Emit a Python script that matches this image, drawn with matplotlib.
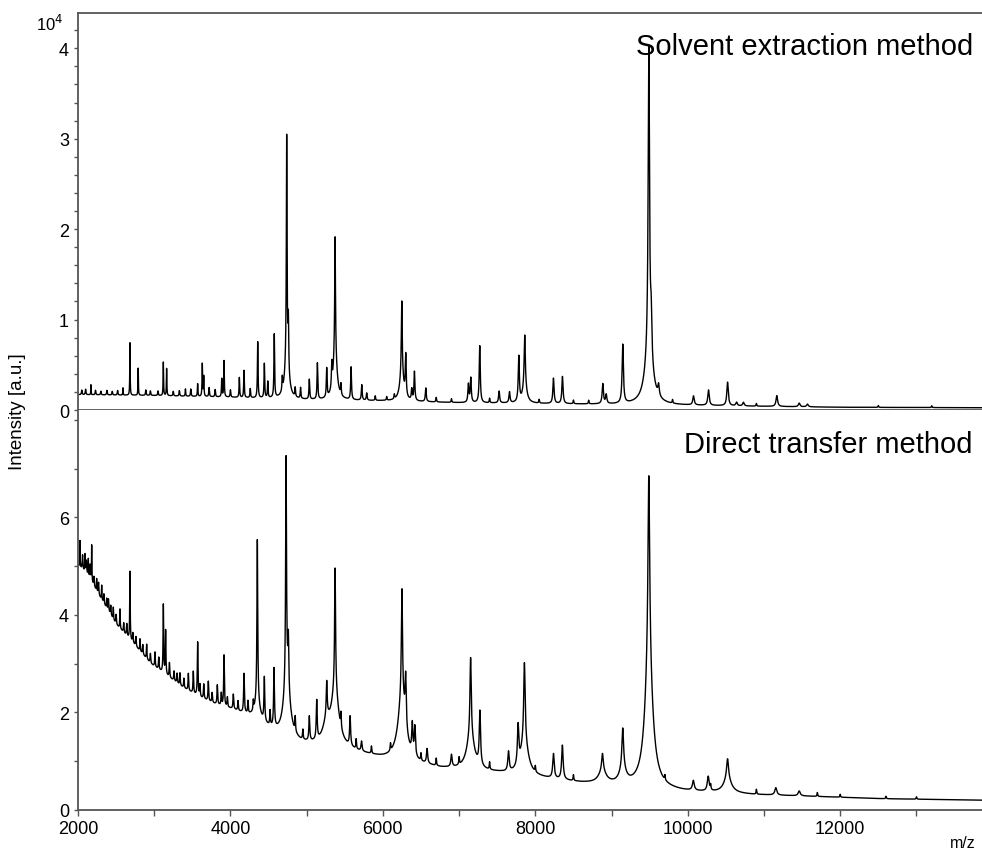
import matplotlib
matplotlib.use("Agg")
import matplotlib.pyplot as plt
import numpy as np
from matplotlib.ticker import MultipleLocator, FixedLocator

plt.rcParams['font.family'] = ['Liberation Sans', 'DejaVu Sans']

# ---- solvent extraction spectrum (intensity in 1e4 a.u.) ----
se_base_mz = [2000, 3000, 4000, 5000, 6000, 7000, 8000, 9000, 10000, 11000, 12000, 13860]
se_base_int = [0.17, 0.16, 0.14, 0.11, 0.10, 0.08, 0.07, 0.06, 0.05, 0.04, 0.03, 0.025]

se_peak_mz = [2170, 2590, 2682, 2790, 3120, 3163, 3410, 3570, 3631, 3650,
              3886, 3916, 4117, 4178, 4358, 4445, 4490, 4575, 4738, 4760,
              5035, 5141, 5263, 5330, 5373, 5583, 5723, 5788, 6248, 6300,
              6379, 6414, 6563, 7122, 7153, 7271, 7525, 7661, 7783, 7861,
              8238, 8356, 8885, 8930, 9147, 9489, 9520, 9617, 10075, 10272,
              10522, 10640, 10730, 11168, 11462, 11570]
se_peak_amp = [0.11, 0.08, 0.58, 0.30, 0.37, 0.30, 0.08, 0.14, 0.36, 0.22,
               0.20, 0.40, 0.22, 0.30, 0.62, 0.38, 0.18, 0.70, 2.45, 0.55,
               0.22, 0.40, 0.32, 0.26, 1.30, 0.36, 0.17, 0.08, 0.80, 0.45,
               0.12, 0.32, 0.15, 0.20, 0.27, 0.63, 0.13, 0.12, 0.50, 0.55,
               0.28, 0.30, 0.22, 0.10, 0.65, 3.38, 0.45, 0.12, 0.10, 0.17,
               0.26, 0.04, 0.04, 0.12, 0.04, 0.03]
# small bumps between the main peaks
se_fine_mz = [2050, 2100, 2230, 2300, 2380, 2450, 2520, 2890, 2950, 3050,
              3250, 3330, 3480, 3720, 3800, 4000, 4260, 4680, 4850, 4920,
              5450, 5900, 6050, 6150, 6700, 6900, 7400, 8050, 8500, 8700,
              9800, 10900, 12500, 13200]
se_fine_amp = [0.05, 0.06, 0.05, 0.04, 0.05, 0.04, 0.05, 0.06, 0.05, 0.05,
               0.05, 0.06, 0.08, 0.10, 0.08, 0.08, 0.10, 0.15, 0.10, 0.12,
               0.12, 0.05, 0.04, 0.05, 0.05, 0.04, 0.05, 0.04, 0.04, 0.04,
               0.04, 0.03, 0.02, 0.02]
# broad feet under the strong peaks
se_broad_mz = [4740, 5373, 6248, 7861, 9489]
se_broad_amp = [0.45, 0.50, 0.30, 0.20, 0.55]
se_broad_w = [30, 30, 30, 30, 60]

# ---- direct transfer spectrum ----
dt_base_mz = [2000, 2110, 2290, 2500, 2730, 2950, 3160, 3380, 3600, 3820, 4040,
              4260, 4700, 4910, 5130, 5570, 6000, 6760, 7540, 8610, 9000, 9930,
              10900, 11580, 12560, 13860]
dt_base_int = [5.0, 4.85, 4.35, 3.8, 3.4, 3.0, 2.75, 2.5, 2.3, 2.15, 2.05,
               1.9, 1.45, 1.35, 1.3, 1.2, 1.05, 0.85, 0.75, 0.55, 0.5, 0.38,
               0.31, 0.28, 0.23, 0.2]

dt_peak_mz = [2026, 2092, 2136, 2180, 2245, 2311, 2377, 2464, 2551, 2682,
              2814, 2901, 3010, 3120, 3150, 3338, 3448, 3513, 3570, 3710,
              3828, 3916, 4038, 4178, 4353, 4445, 4572, 4730, 4760, 5035,
              5132, 5263, 5373, 5570, 5720, 6250, 6299, 6386, 6420, 6580,
              6900, 7151, 7273, 7648, 7774, 7857, 8238, 8355, 8881, 9147,
              9489, 10073, 10268, 10522, 11155, 11462]
dt_peak_amp = [0.55, 0.35, 0.35, 0.75, 0.25, 0.30, 0.20, 0.25, 0.40, 1.40,
               0.25, 0.30, 0.30, 1.40, 0.90, 0.25, 0.35, 0.45, 1.10, 0.40,
               0.40, 1.05, 0.30, 0.80, 3.30, 0.90, 1.20, 4.60, 1.00, 0.50,
               0.80, 0.70, 2.50, 0.60, 0.20, 2.20, 1.00, 0.60, 0.60, 0.30,
               0.25, 1.60, 1.10, 0.40, 0.80, 1.60, 0.50, 0.70, 0.35, 0.80,
               3.80, 0.20, 0.30, 0.40, 0.15, 0.10]
dt_fine_mz = [2060, 2110, 2160, 2210, 2270, 2340, 2400, 2430, 2500, 2600,
              2640, 2720, 2760, 2850, 2950, 3060, 3200, 3260, 3300, 3390,
              3600, 3650, 3760, 3880, 3960, 4100, 4230, 4300, 4520, 4850,
              4950, 5450, 5650, 5850, 6100, 6500, 6700, 7000, 7400, 8000,
              8500, 9700, 10300, 10900, 11700, 12000, 12600, 13000]
dt_fine_amp = [0.30, 0.25, 0.30, 0.20, 0.25, 0.20, 0.25, 0.20, 0.20, 0.20,
               0.25, 0.20, 0.20, 0.20, 0.20, 0.25, 0.30, 0.20, 0.20, 0.20,
               0.25, 0.30, 0.20, 0.25, 0.20, 0.20, 0.25, 0.20, 0.30, 0.30,
               0.20, 0.30, 0.20, 0.15, 0.15, 0.15, 0.15, 0.15, 0.15, 0.12,
               0.12, 0.10, 0.10, 0.10, 0.08, 0.06, 0.05, 0.05]
dt_broad_mz = [4353, 4740, 5263, 5373, 6250, 7151, 7857, 8881, 9147, 9489, 10522]
dt_broad_amp = [0.40, 1.20, 0.40, 1.10, 1.30, 0.70, 0.70, 0.25, 0.30, 2.60, 0.30]
dt_broad_w = [40, 50, 60, 60, 60, 60, 60, 60, 50, 60, 60]

mz = np.arange(2000, 13870, 1.0)


def lorentz(y, centers, amps, widths):
    for m, a, w in zip(centers, amps, widths):
        y += a / (1 + ((mz - m) / w) ** 2)
    return y


def spectrum(base_mz, base_int, p_mz, p_amp, res, f_mz, f_amp, b_mz, b_amp, b_w):
    y = np.interp(mz, base_mz, base_int)
    y = lorentz(y, p_mz, p_amp, [m * res for m in p_mz])
    y = lorentz(y, f_mz, f_amp, [5.0] * len(f_mz))
    y = lorentz(y, b_mz, b_amp, b_w)
    return y


se = spectrum(se_base_mz, se_base_int, se_peak_mz, se_peak_amp, 0.0011,
              se_fine_mz, se_fine_amp, se_broad_mz, se_broad_amp, se_broad_w)
dt = spectrum(dt_base_mz, dt_base_int, dt_peak_mz, dt_peak_amp, 0.0014,
              dt_fine_mz, dt_fine_amp, dt_broad_mz, dt_broad_amp, dt_broad_w)

fig = plt.figure(figsize=(9.82, 8.62), dpi=100)
ax1 = fig.add_axes([0.0794, 0.5232, 0.9206, 0.4606])
ax2 = fig.add_axes([0.0794, 0.0592, 0.9206, 0.4640], sharex=ax1)

spine_c = '#555555'
for ax in (ax1, ax2):
    ax.spines['right'].set_visible(False)
    for s in ax.spines.values():
        s.set_color(spine_c)
        s.set_linewidth(1.3)
    ax.tick_params(which='both', direction='out', color=spine_c, labelsize=13, width=1)
    ax.tick_params(which='major', length=3)
    ax.tick_params(which='minor', length=3)

ax1.plot(mz, se, color='black', lw=1.0)
ax1.set_xlim(2000, 13860)
ax1.set_ylim(0, 4.39)
ax1.yaxis.set_major_locator(MultipleLocator(1))
ax1.yaxis.set_minor_locator(MultipleLocator(0.2))
ax1.tick_params(axis='x', which='both', bottom=False, labelbottom=False)
ax1.text(0.99, 0.917, 'Solvent extraction method', transform=ax1.transAxes,
         ha='right', va='center', fontsize=21)

ax2.plot(mz, dt, color='black', lw=1.0)
ax2.set_ylim(0, 8.2)
ax2.spines['top'].set_visible(False)
ax2.yaxis.set_major_locator(FixedLocator([0, 2, 4, 6]))
ax2.yaxis.set_minor_locator(MultipleLocator(1))
ax2.xaxis.set_major_locator(MultipleLocator(2000))
ax2.xaxis.set_minor_locator(MultipleLocator(1000))
ax2.tick_params(axis='x', which='both', length=4)
ax2.text(0.99, 0.915, 'Direct transfer method', transform=ax2.transAxes,
         ha='right', va='center', fontsize=21)

fig.text(0.018, 0.523, 'Intensity [a.u.]', rotation=90, ha='center', va='center', fontsize=13.5)
fig.text(0.037, 0.972, '10$^4$', ha='left', va='center', fontsize=12)
fig.text(0.993, 0.013, 'm/z', ha='right', va='bottom', fontsize=11.5)

fig.savefig('out.png', dpi=100)
